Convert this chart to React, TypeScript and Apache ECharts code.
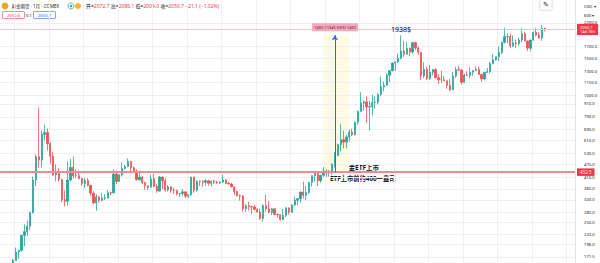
import { useEffect, useRef } from "react";
import * as echarts from "echarts";

// Quarterly gold futures candles: [open, close, low, high]
const gold1970s = [
  [123, 135, 116, 139], [135, 149, 129, 154], [149, 143, 137, 150], [143, 154, 141, 155],
  [154, 165, 153, 168], [165, 181, 165, 190], [181, 184, 168, 186], [184, 217, 182, 218],
  [217, 226, 193, 245], [226, 240, 216, 255], [240, 278, 230, 282], [278, 397, 276, 412],
  [397, 512, 372, 524],
];
const gold1980s = [
  [512, 494, 453, 873], [494, 653, 455, 680], [653, 666, 610, 725], [666, 590, 547, 697],
  [590, 515, 475, 600], [515, 420, 415, 540], [420, 437, 391, 470], [437, 400, 390, 454],
  [400, 320, 312, 400], [320, 315, 297, 355], [315, 397, 300, 485], [397, 456, 390, 500],
  [456, 415, 405, 514], [415, 416, 405, 445], [416, 403, 400, 430], [403, 382, 372, 405],
  [382, 395, 365, 405], [395, 375, 370, 405], [375, 344, 335, 375], [344, 309, 305, 350],
  [309, 330, 284, 340], [330, 318, 310, 335], [318, 326, 315, 345], [326, 327, 319, 340],
  [327, 346, 324, 355], [346, 345, 336, 350], [345, 424, 345, 445], [424, 391, 380, 440],
  [391, 420, 390, 422], [420, 450, 412, 480], [450, 460, 446, 470], [460, 486, 456, 502],
  [486, 454, 430, 487], [454, 437, 437, 460], [437, 398, 395, 446], [398, 410, 395, 440],
  [410, 385, 380, 415], [385, 373, 358, 390], [373, 367, 355, 375], [367, 402, 365, 420],
];
const gold1990s = [
  [402, 370, 367, 425], [370, 352, 345, 380], [352, 410, 350, 415], [410, 394, 360, 412],
  [394, 356, 350, 405], [356, 368, 350, 375], [368, 355, 345, 370], [355, 353, 340, 365],
  [353, 341, 336, 358], [341, 343, 330, 345], [343, 349, 335, 360], [349, 333, 327, 350],
  [333, 338, 326, 340], [338, 410, 335, 410], [410, 355, 345, 412], [355, 392, 350, 395],
  [392, 391, 372, 395], [391, 387, 370, 395], [387, 394, 373, 400], [394, 383, 373, 398],
  [383, 392, 370, 395], [392, 388, 380, 398], [388, 385, 380, 393], [385, 388, 380, 392],
  [388, 397, 385, 420], [397, 383, 380, 400], [383, 380, 378, 390], [380, 369, 365, 385],
  [369, 350, 337, 370], [350, 335, 332, 355], [335, 333, 317, 340], [333, 290, 282, 337],
  [290, 300, 280, 305], [300, 297, 285, 313], [297, 296, 273, 300], [296, 288, 285, 303],
  [288, 280, 278, 292], [280, 261, 257, 290], [261, 300, 252, 305], [300, 290, 282, 338],
];
const gold2000s = [
  [290, 279, 277, 316], [279, 290, 271, 293], [290, 273, 270, 292], [273, 272, 263, 275],
  [272, 258, 255, 273], [258, 270, 256, 290], [270, 293, 265, 295], [293, 279, 272, 293],
  [279, 302, 277, 305], [302, 318, 300, 330], [318, 324, 302, 325], [324, 348, 310, 350],
  [348, 336, 325, 390], [336, 346, 320, 372], [346, 386, 342, 390], [386, 416, 369, 418],
  [416, 427, 390, 430], [427, 394, 372, 430], [394, 418, 385, 420], [418, 438, 411, 458],
  [438, 429, 410, 446], [429, 437, 412, 442], [437, 473, 418, 475], [473, 518, 456, 540],
  [518, 584, 516, 590], [584, 616, 542, 732], [616, 600, 560, 680], [600, 635, 560, 650],
  [635, 669, 605, 690], [669, 650, 640, 695], [650, 745, 645, 750], [745, 838, 725, 848],
  [838, 918, 838, 1033], [918, 930, 845, 945], [930, 880, 740, 988], [880, 884, 682, 940],
  [884, 924, 800, 1007], [924, 927, 865, 990], [927, 1008, 905, 1024], [1008, 1096, 990, 1227],
];
const gold2010s = [
  [1096, 1115, 1045, 1163], [1115, 1244, 1110, 1266], [1244, 1308, 1155, 1320], [1308, 1421, 1300, 1432],
  [1421, 1439, 1308, 1447], [1439, 1500, 1420, 1577], [1500, 1620, 1480, 1923], [1620, 1566, 1522, 1803],
  [1566, 1669, 1560, 1792], [1669, 1604, 1527, 1680], [1604, 1776, 1572, 1790], [1776, 1675, 1636, 1798],
  [1675, 1595, 1555, 1698], [1595, 1234, 1180, 1605], [1234, 1327, 1208, 1434], [1327, 1202, 1180, 1361],
  [1202, 1284, 1182, 1392], [1284, 1322, 1240, 1331], [1322, 1210, 1206, 1345], [1210, 1184, 1131, 1255],
  [1184, 1183, 1142, 1307], [1183, 1172, 1162, 1232], [1172, 1115, 1072, 1172], [1115, 1061, 1046, 1192],
  [1061, 1234, 1061, 1287], [1234, 1320, 1208, 1362], [1320, 1317, 1306, 1377], [1317, 1152, 1124, 1337],
  [1152, 1247, 1146, 1264], [1247, 1242, 1240, 1296], [1242, 1284, 1205, 1362], [1284, 1309, 1236, 1310],
  [1309, 1327, 1302, 1370], [1327, 1253, 1251, 1366], [1253, 1195, 1160, 1265], [1195, 1282, 1180, 1286],
  [1282, 1295, 1276, 1346], [1295, 1413, 1266, 1442], [1413, 1472, 1400, 1566], [1472, 1523, 1460, 1525],
];
const gold2020s = [
  [1523, 1596, 1452, 1704], [1596, 1781, 1568, 1795], [1781, 1895, 1760, 2089], [1895, 1898, 1764, 1966],
  [1898, 1715, 1673, 1959], [1715, 1770, 1690, 1919], [1770, 1757, 1677, 1834], [1757, 1828, 1721, 1877],
  [1828, 1954, 1781, 2078], [1954, 1807, 1805, 2003], [1807, 1672, 1622, 1815], [1672, 1826, 1616, 1833],
  [1826, 1986, 1810, 2005], [1986, 1929, 1900, 2085], [1929, 1866, 1858, 1987], [1866, 2072, 1810, 2152],
  [2072.7, 2050.7, 2004.0, 2086.1],
];

const candles = [...gold1970s, ...gold1980s, ...gold1990s, ...gold2000s, ...gold2010s, ...gold2020s];

// price-axis tick labels (log scale)
const yTicks = [2200, 1700, 1500, 1300, 1150, 1000, 910, 790, 690, 610, 530, 470, 410, 360, 320, 280, 250, 220, 196, 171.5];
const yMin = 160.6;
const yMax = 2826;

const etfLevel = 432.5;
const lastPrice = 2050.7;
const rangeTop = 1925.2;
const peak2011 = 1923;
const rangeText = "1492.7 (345.53%) 1492";

// quarter categories 1976Q4 .. 2026Q3 (axis slots)
const categories: string[] = [];
{
  let y = 1976;
  let q = 4;
  for (let i = 0; i < 200; i++) {
    categories.push(`${y}Q${q}`);
    q++;
    if (q > 4) {
      q = 1;
      y++;
    }
  }
}

const FONT = "'Noto Sans', 'Noto Sans CJK SC', sans-serif";
const UP = "#26a69a";
const DOWN = "#ef5350";

export default function App() {
  const ref = useRef<HTMLDivElement>(null);
  useEffect(() => {
    if (!ref.current) return;
    const chart = echarts.init(ref.current, undefined, { renderer: "svg" });
    const gridLines = yTicks.map((v) => ({
      yAxis: v,
      lineStyle: { color: "#eef0f4", width: 1, type: "solid" },
      label: {
        show: true,
        position: "end",
        distance: 9,
        formatter: v.toFixed(1),
        fontSize: 4.2,
        color: "#131722",
        fontFamily: FONT,
      },
    }));
    chart.setOption({
      animation: false,
      backgroundColor: "#ffffff",
      textStyle: { fontFamily: FONT },
      grid: { left: 0, right: 25, top: 0, bottom: 0 },
      xAxis: {
        type: "category",
        data: categories,
        boundaryGap: true,
        axisLine: { show: false },
        axisTick: { show: false },
        axisLabel: { show: false },
        splitLine: {
          show: true,
          lineStyle: { color: "#eef0f4", width: 1 },
          interval: (_i: number, v: string) => {
            const yr = parseInt(v.slice(0, 4), 10);
            return v.endsWith("Q1") && (yr - 1981) % 3 === 0;
          },
        },
      },
      yAxis: {
        type: "log",
        logBase: 10,
        min: yMin,
        max: yMax,
        position: "right",
        axisLine: { show: true, lineStyle: { color: "#e0e3eb" } },
        axisTick: { show: false },
        axisLabel: { show: false },
        splitLine: { show: false },
      },
      series: [
        {
          type: "line",
          data: [],
          silent: true,
          markLine: {
            silent: true,
            symbol: ["none", "none"],
            z: 1,
            data: gridLines,
          },
        },
        {
          type: "candlestick",
          data: candles,
          barWidth: 1.8,
          clip: true,
          itemStyle: {
            color: UP,
            color0: DOWN,
            borderColor: UP,
            borderColor0: DOWN,
            borderWidth: 0.8,
          },
          markArea: {
            silent: true,
            itemStyle: { color: "#fffbe3" },
            data: [[{ xAxis: "2004Q4", yAxis: etfLevel }, { xAxis: "2007Q1", yAxis: rangeTop }]],
          },
          markLine: {
            silent: true,
            symbol: ["none", "none"],
            data: [
              {
                yAxis: etfLevel,
                lineStyle: { color: "#f28b8f", width: 2, type: "solid" },
                label: {
                  show: true,
                  position: "end",
                  distance: 2,
                  formatter: etfLevel.toFixed(1),
                  fontSize: 4.5,
                  color: "#ffffff",
                  backgroundColor: "#f23645",
                  padding: [1.5, 3],
                  fontFamily: FONT,
                },
              },
              {
                yAxis: lastPrice,
                lineStyle: { color: "#f9c4c8", width: 1, type: "solid" },
                label: {
                  show: true,
                  position: "end",
                  distance: 2,
                  formatter: lastPrice.toFixed(1) + "\n14d 16h",
                  fontSize: 4,
                  lineHeight: 4.6,
                  color: "#ffffff",
                  backgroundColor: "#f23645",
                  padding: [1, 3],
                  fontFamily: FONT,
                },
              },
              [
                {
                  coord: ["2005Q4", etfLevel],
                  symbol: "none",
                  lineStyle: { color: "#2962ff", width: 1, type: "solid" },
                  label: { show: false },
                },
                { coord: ["2005Q4", rangeTop], symbol: "arrow", symbolSize: 5 },
              ],
            ],
          },
          markPoint: {
            silent: true,
            data: [
              {
                coord: ["2011Q3", peak2011],
                symbol: "circle",
                symbolSize: 1,
                itemStyle: { color: "transparent" },
                label: {
                  show: true,
                  position: "top",
                  distance: 2,
                  formatter: "1938$",
                  fontSize: 7,
                  fontWeight: 500,
                  color: "#1b2a7a",
                  fontFamily: FONT,
                },
              },
              {
                coord: ["2005Q4", rangeTop],
                symbol: "rect",
                symbolSize: [46, 8],
                symbolOffset: [0, -8],
                itemStyle: { color: "#f4a9bd" },
                label: {
                  show: true,
                  position: "inside",
                  formatter: rangeText,
                  fontSize: 4,
                  color: "#5a1c2c",
                  fontFamily: FONT,
                },
              },
            ],
          },
        },
      ],
      graphic: [
        { type: "circle", shape: { cx: 5, cy: 6, r: 3.5 }, style: { fill: "#e3a92f" } },
        {
          type: "text",
          x: 11.5,
          y: 6,
          style: { text: "黄金期货 · 1月 · COMEX", fontSize: 4.5, fill: "#131722", verticalAlign: "middle", fontFamily: FONT },
        },
        { type: "circle", shape: { cx: 71, cy: 6, r: 3 }, style: { fill: "#ffffff", stroke: "#22ab94", lineWidth: 0.8 } },
        { type: "circle", shape: { cx: 71, cy: 6, r: 1.2 }, style: { fill: "#22ab94" } },
        { type: "circle", shape: { cx: 78, cy: 6, r: 3 }, style: { fill: "#f7b32b" } },
        {
          type: "text",
          x: 86,
          y: 6,
          style: {
            text: "{l|开=}{v|2072.7} {l|高=}{v|2086.1} {l|低=}{v|2004.0} {l|收=}{v|2050.7} {v|−21.1 (−1.02%)}",
            verticalAlign: "middle",
            fontSize: 5,
            fontFamily: FONT,
            rich: {
              l: { fill: "#131722", fontSize: 5, fontFamily: FONT },
              v: { fill: "#f23645", fontSize: 5, fontFamily: FONT },
            },
          },
        },
        { type: "rect", shape: { x: 2.5, y: 11.5, width: 22, height: 7, r: 1 }, style: { fill: "#ffffff", stroke: "#f23645", lineWidth: 0.6 } },
        {
          type: "text",
          x: 13.5,
          y: 15,
          style: { text: "2050.6", fontSize: 4.2, fill: "#f23645", align: "center", verticalAlign: "middle", fontFamily: FONT },
        },
        {
          type: "text",
          x: 29,
          y: 15,
          style: { text: "0.1", fontSize: 4.2, fill: "#131722", align: "center", verticalAlign: "middle", fontFamily: FONT },
        },
        { type: "rect", shape: { x: 33.5, y: 11.5, width: 22, height: 7, r: 1 }, style: { fill: "#ffffff", stroke: "#2962ff", lineWidth: 0.6 } },
        {
          type: "text",
          x: 44.5,
          y: 15,
          style: { text: "2050.7", fontSize: 4.2, fill: "#2962ff", align: "center", verticalAlign: "middle", fontFamily: FONT },
        },
        {
          type: "text",
          x: 342,
          y: 167,
          style: { text: "黄金ETF上市", fontSize: 6.5, fontWeight: "bold", fill: "#131722", verticalAlign: "middle", fontFamily: FONT },
        },
        {
          type: "text",
          x: 330,
          y: 178.5,
          style: { text: "ETF上市前约400一盎司", fontSize: 6.3, fontWeight: "bold", fill: "#131722", verticalAlign: "middle", fontFamily: FONT },
        },
        {
          type: "text",
          x: 584,
          y: 6,
          style: { text: "USD ▾", fontSize: 4.2, fill: "#131722", verticalAlign: "middle", fontFamily: FONT },
        },
        {
          type: "text",
          x: 584,
          y: 15,
          style: { text: "600 ▾", fontSize: 4.2, fill: "#131722", verticalAlign: "middle", fontFamily: FONT },
        },
        {
          type: "rect",
          shape: { x: 540, y: -1, width: 12, height: 11, r: 1.5 },
          style: { fill: "#ffffff", stroke: "#d1d4dc", lineWidth: 0.6, shadowBlur: 2, shadowColor: "rgba(0,0,0,0.15)" },
        },
        {
          type: "text",
          x: 546,
          y: 4.5,
          style: { text: "✎", fontSize: 7, fill: "#131722", align: "center", verticalAlign: "middle", fontFamily: "DejaVu Sans" },
        },
      ],
    });
    return () => chart.dispose();
  }, []);
  return <div ref={ref} style={{ position: "absolute", left: 0, top: 0, width: 600, height: 263 }} />;
}
